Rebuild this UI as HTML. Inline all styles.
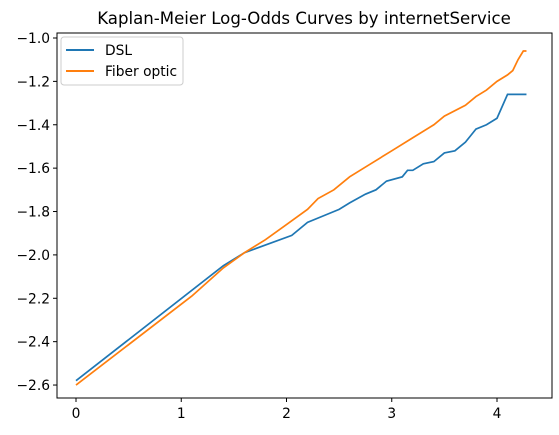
<!DOCTYPE html>
<html><head><meta charset="utf-8"><style>
body{margin:0;background:#fff;}
svg{display:block;font-family:"DejaVu Sans","Liberation Sans",sans-serif;}
</style></head><body>
<svg id="chart" width="559" height="435">
<text x="304" y="24" text-anchor="middle" font-size="16.6" fill="#000">Kaplan-Meier Log-Odds Curves by internetService</text>
<g id="axes"></g>
<g id="series"></g>
<rect x="57" y="33" width="495" height="365" fill="none" stroke="#000" stroke-width="1"/>
<g>
<rect x="61" y="37" width="122" height="48" rx="3" fill="#fff" fill-opacity="0.8" stroke="#ccc"/>
<line x1="66" y1="50" x2="94" y2="50" stroke="#1f77b4" stroke-width="2"/>
<text x="105" y="55" font-size="13.8">DSL</text>
<line x1="66" y1="71" x2="94" y2="71" stroke="#ff7f0e" stroke-width="2"/>
<text x="105" y="76" font-size="13.8">Fiber optic</text>
</g>
</svg>
<script>
const xTicks=[0,1,2,3,4];
const yTicks=[-1.0,-1.2,-1.4,-1.6,-1.8,-2.0,-2.2,-2.4,-2.6];
const dslX=[0,1.4,1.6,2.05,2.2,2.35,2.5,2.6,2.75,2.85,2.95,3.1,3.15,3.2,3.3,3.4,3.5,3.6,3.7,3.75,3.8,3.9,4.0,4.1,4.28];
const dslY=[-2.58,-2.05,-1.99,-1.91,-1.85,-1.82,-1.79,-1.76,-1.72,-1.70,-1.66,-1.64,-1.61,-1.61,-1.58,-1.57,-1.53,-1.52,-1.48,-1.45,-1.42,-1.40,-1.37,-1.26,-1.26];
const fibX=[0,1.1,1.4,1.6,1.8,2.0,2.2,2.3,2.45,2.6,2.8,3.0,3.2,3.4,3.5,3.7,3.8,3.9,4.0,4.1,4.15,4.2,4.25,4.28];
const fibY=[-2.60,-2.19,-2.06,-1.99,-1.93,-1.86,-1.79,-1.74,-1.70,-1.64,-1.58,-1.52,-1.46,-1.40,-1.36,-1.31,-1.27,-1.24,-1.20,-1.17,-1.15,-1.10,-1.06,-1.06];
const NS='http://www.w3.org/2000/svg';
const xs=v=>76+v*105.25;
const ys=v=>38+(-1.0-v)*216.9;
const axes=document.getElementById('axes');
xTicks.forEach(t=>{
 const l=document.createElementNS(NS,'line');
 l.setAttribute('x1',xs(t));l.setAttribute('x2',xs(t));l.setAttribute('y1',398);l.setAttribute('y2',402);l.setAttribute('stroke','#000');
 
 
 axes.appendChild(l);
 const tx=document.createElementNS(NS,'text');
 tx.setAttribute('x',xs(t));tx.setAttribute('y',418);tx.setAttribute('text-anchor','middle');tx.setAttribute('font-size','13.8');
 tx.textContent=String(t);
 
 
 axes.appendChild(tx);
});
yTicks.forEach(t=>{
 const l=document.createElementNS(NS,'line');
 l.setAttribute('x1',53);l.setAttribute('x2',57);l.setAttribute('y1',ys(t));l.setAttribute('y2',ys(t));l.setAttribute('stroke','#000');
 
 
 axes.appendChild(l);
 const tx=document.createElementNS(NS,'text');
 tx.setAttribute('x',50);tx.setAttribute('y',ys(t)+5);tx.setAttribute('text-anchor','end');tx.setAttribute('font-size','13.8');
 tx.textContent='\u2212'+Math.abs(t).toFixed(1);
 
 
 axes.appendChild(tx);
});
const ser=document.getElementById('series');
function line(X,Y,c,n){
 const p=document.createElementNS(NS,'polyline');
 p.setAttribute('points',X.map((x,i)=>xs(x)+','+ys(Y[i])).join(' '));
 p.setAttribute('fill','none');p.setAttribute('stroke',c);p.setAttribute('stroke-width','1.7');
 
 
 ser.appendChild(p);
}
line(dslX,dslY,'#1f77b4','dsl-line');
line(fibX,fibY,'#ff7f0e','fiber-optic-line');
</script>
</body></html>
